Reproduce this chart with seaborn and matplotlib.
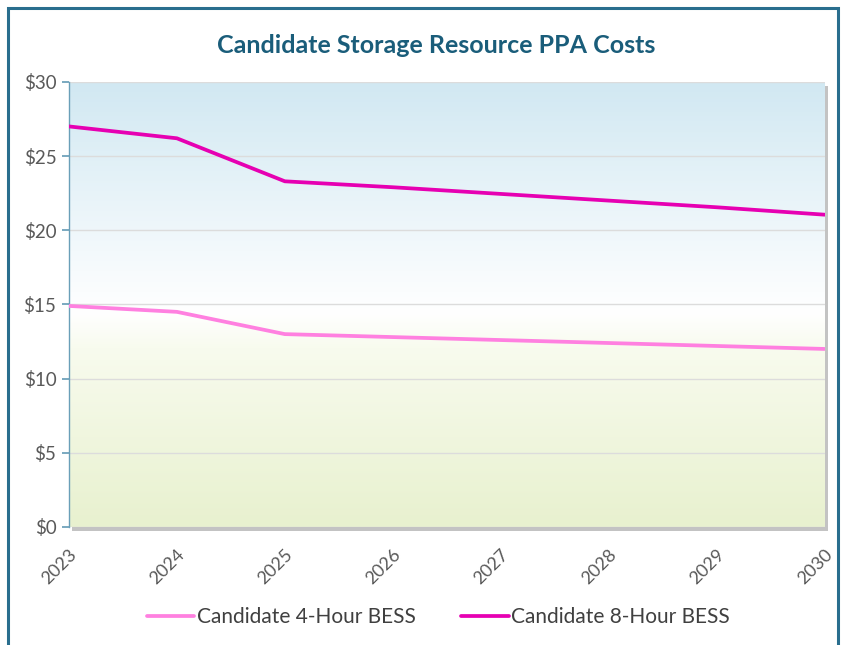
import numpy as np
import pandas as pd
import matplotlib
matplotlib.use("Agg")
import matplotlib.pyplot as plt
from matplotlib.colors import LinearSegmentedColormap
from matplotlib.patches import Rectangle
import seaborn as sns

# --- data ---
years = [2023, 2024, 2025, 2026, 2027, 2028, 2029, 2030]
bess_4h = [14.9, 14.5, 13.0, 12.8, 12.6, 12.4, 12.2, 12.0]
bess_8h = [27.0, 26.2, 23.3, 22.9, 22.45, 22.0, 21.55, 21.05]
series_names = ["Candidate 4-Hour BESS", "Candidate 8-Hour BESS"]
y_ticks = [0, 5, 10, 15, 20, 25, 30]

df = pd.DataFrame({
    "year": years * 2,
    "cost": bess_4h + bess_8h,
    "series": [series_names[0]] * len(years) + [series_names[1]] * len(years),
})

sns.set_theme(style="white")
plt.rcParams["font.family"] = ["Lato", "DejaVu Sans"]

fig = plt.figure(figsize=(8.51, 6.45), dpi=100)
ax_pos = [0.081, 0.183, 0.888, 0.690]
ax = fig.add_axes(ax_pos)

# gradient background: light blue top -> white -> light green bottom
cmap = LinearSegmentedColormap.from_list(
    "bg", [(0.0, "#e8f1cf"), (0.40, "#f8fbee"), (0.48, "#ffffff"),
           (0.62, "#f3f9fc"), (1.0, "#d1e8f2")])
grad = np.linspace(0, 1, 256).reshape(-1, 1)
ax.imshow(grad, aspect="auto", cmap=cmap, origin="lower",
          extent=[0, 1, 0, 1], transform=ax.transAxes, zorder=0)

# shadow on right/bottom of plot area
shadow = Rectangle((ax_pos[0] + 0.004, ax_pos[1] - 0.006), ax_pos[2], ax_pos[3],
                   transform=fig.transFigure, facecolor="#b5b5b5",
                   edgecolor="none", zorder=-1, alpha=0.8)
fig.patches.append(shadow)

palette = {series_names[0]: "#ff80e0", series_names[1]: "#e600b2"}
sns.lineplot(data=df, x="year", y="cost", hue="series", palette=palette,
             linewidth=2.7, ax=ax, zorder=3)

ax.set_xlim(2023, 2030)
ax.set_ylim(0, 30)
ax.set_yticks(y_ticks)
ax.set_yticklabels([f"${v}" for v in y_ticks])
ax.set_xticks(years)
ax.set_xticklabels([str(y) for y in years], rotation=45, ha="right",
                   rotation_mode="anchor")
ax.yaxis.grid(True, color="#dcdcdc", linewidth=1.0, zorder=1)
ax.set_axisbelow(True)
ax.set_xlabel("")
ax.set_ylabel("")

for side in ["top", "right", "bottom"]:
    ax.spines[side].set_visible(False)
ax.spines["left"].set_color("#6a9fb8")
ax.spines["left"].set_linewidth(1.0)
ax.tick_params(axis="y", left=True, length=5, color="#6a9fb8",
               labelsize=13.5, labelcolor="#595959", pad=4)
ax.tick_params(axis="x", bottom=False, labelsize=13,
               labelcolor="#595959", pad=8)

fig.suptitle("Candidate Storage Resource PPA Costs", x=0.512, y=0.948,
             fontsize=18, fontweight="bold", color="#1a5d7a")

handles, labels = ax.get_legend_handles_labels()
fig.legend(handles, labels, loc="center", bbox_to_anchor=(0.515, 0.043),
           ncol=2, frameon=False, fontsize=15, labelcolor="#404040",
           handlelength=2.3, handletextpad=0.1, columnspacing=2.2)
ax.get_legend().remove()

# outer teal frame, cut off at the bottom
frame = Rectangle((8 / 851, -0.05), (838 - 8) / 851, 1.05 - 8 / 645,
                  transform=fig.transFigure, fill=False,
                  edgecolor="#2a6e8e", linewidth=2.2, zorder=10)
fig.patches.append(frame)

fig.savefig("out.png", dpi=100)
